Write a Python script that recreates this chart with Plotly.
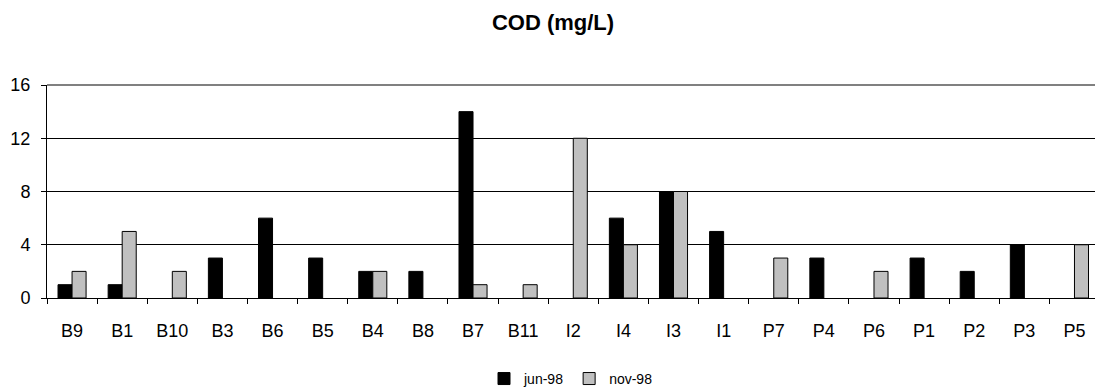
import plotly.graph_objects as go

categories = ["B9", "B1", "B10", "B3", "B6", "B5", "B4", "B8", "B7", "B11", "I2",
              "I4", "I3", "I1", "P7", "P4", "P6", "P1", "P2", "P3", "P5"]
jun_98 = [1, 1, 0, 3, 6, 3, 2, 2, 14, 0, 0, 6, 8, 5, 0, 3, 0, 3, 2, 4, 0]
nov_98 = [2, 5, 2, 0, 0, 0, 2, 0, 1, 1, 12, 4, 8, 0, 3, 0, 2, 0, 0, 0, 4]
y_ticks = [0, 4, 8, 12, 16]

FONT = "Liberation Sans, Arial, sans-serif"


def outline(vals):
    return [1 if v else 0 for v in vals]


fig = go.Figure()
fig.add_trace(go.Bar(x=categories, y=jun_98, name="jun-98",
                     marker=dict(color="#000000",
                                 line=dict(color="#000000", width=outline(jun_98)))))
fig.add_trace(go.Bar(x=categories, y=nov_98, name="nov-98",
                     marker=dict(color="#C0C0C0",
                                 line=dict(color="#000000", width=outline(nov_98)))))

W, H = 1095, 389
left, top, bottom_px = 46.6, 85, 297.7
cat_w = 50.14
x_end = (W - left) / cat_w - 0.5

fig.update_layout(
    width=W, height=H,
    margin=dict(l=left, r=0, t=top, b=H - bottom_px, pad=0, autoexpand=False),
    paper_bgcolor="white", plot_bgcolor="white",
    barmode="group", bargap=0.44, bargroupgap=0,
    font=dict(family=FONT, color="black", size=18),
    title=dict(text="<b>COD (mg/L)</b>", x=553 / W, xanchor="center",
               y=1 - 22 / H, yanchor="middle", yref="container",
               font=dict(family=FONT, size=22, color="black")),
    legend=dict(orientation="h", x=0.5, xanchor="center", y=-0.38, yanchor="middle",
                font=dict(family=FONT, size=14, color="black"),
                itemwidth=30, traceorder="normal"),
    showlegend=True,
)
fig.update_xaxes(
    type="category", range=[-0.5, x_end], automargin=False,
    showline=True, linecolor="black", linewidth=1,
    ticks="outside", ticklen=5, tickcolor="black", tickwidth=1,
    tickson="boundaries", showgrid=False, ticklabelstandoff=16,
    tickfont=dict(family=FONT, size=18, color="black"),
)
fig.update_yaxes(
    range=[0, 16], tickvals=y_ticks, ticktext=[str(v) for v in y_ticks],
    automargin=False,
    showline=True, linecolor="black", linewidth=1,
    ticks="outside", ticklen=5, tickcolor="black", tickwidth=1,
    showgrid=True, gridcolor="black", gridwidth=1, zeroline=False,
    ticklabelstandoff=7,
    tickfont=dict(family=FONT, size=18, color="black"),
)
fig.add_shape(type="line", xref="paper", yref="paper", x0=0, x1=1, y0=1, y1=1,
              line=dict(color="#808080", width=2))

fig.write_html("out.html")
